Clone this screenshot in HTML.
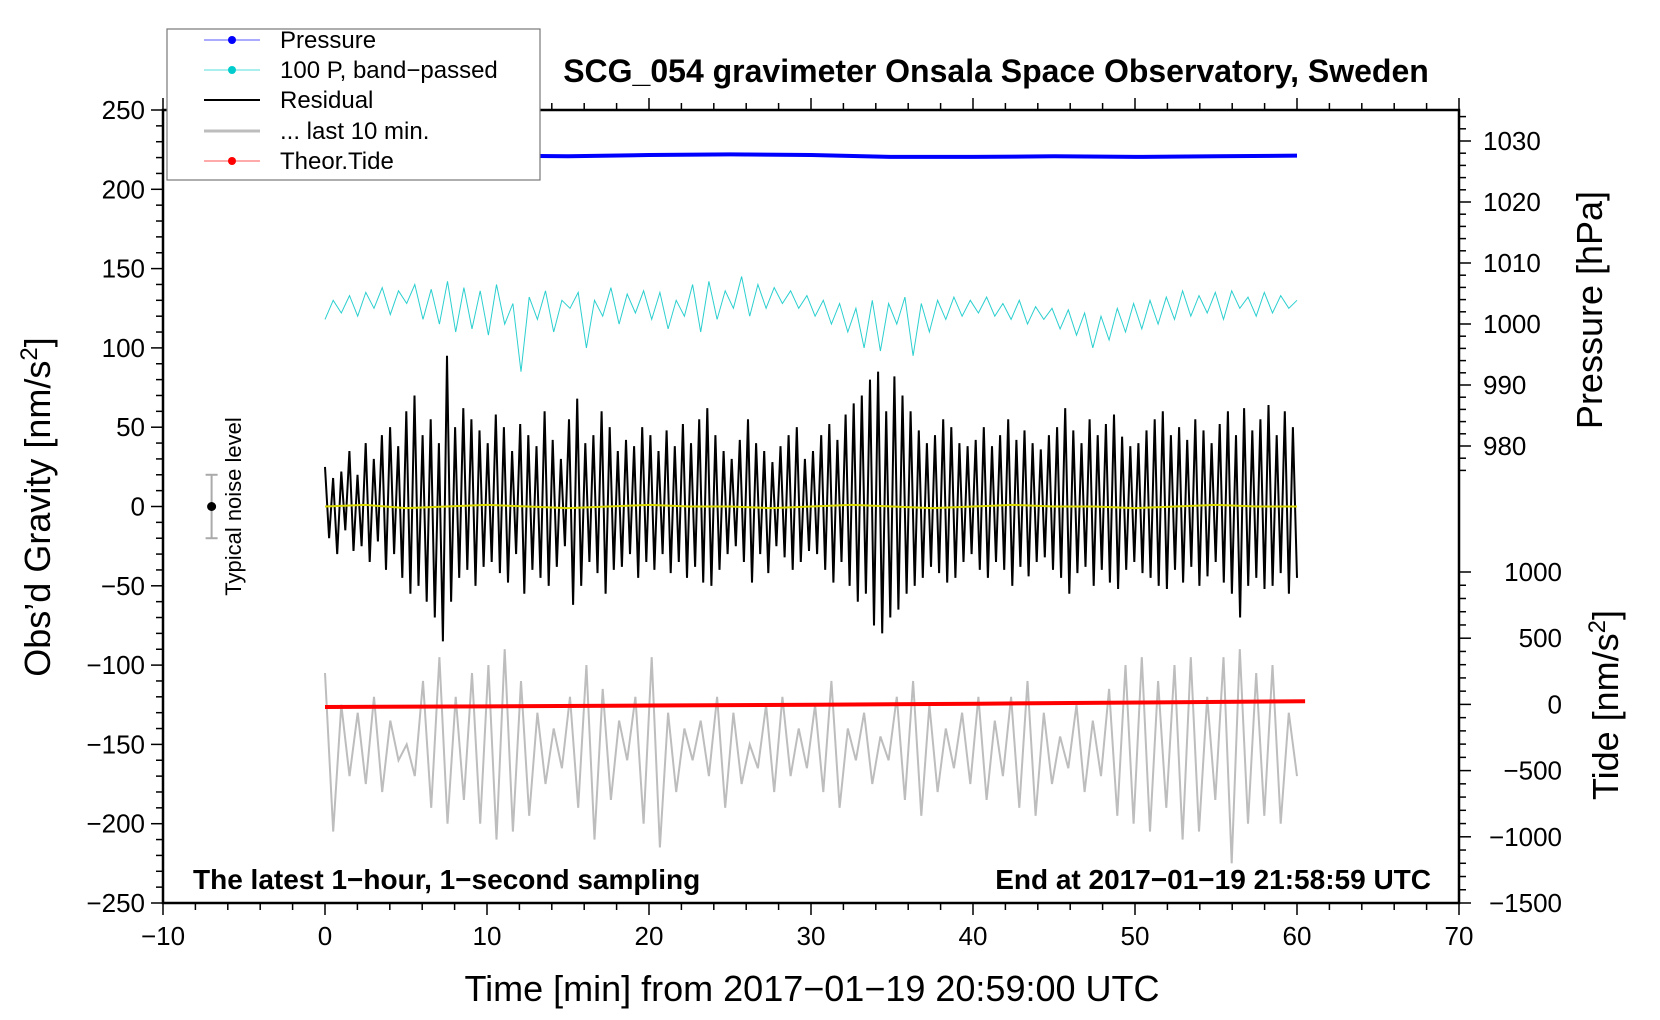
<!DOCTYPE html>
<html><head><meta charset="utf-8">
<style>
html,body{margin:0;padding:0;background:#fff;}
svg{display:block;font-family:"Liberation Sans",Arial,sans-serif;}
</style></head>
<body>
<svg id="chart" width="1660" height="1020" viewBox="0 0 1660 1020" xmlns="http://www.w3.org/2000/svg">
<rect x="0" y="0" width="1660" height="1020" fill="#fff"/>
<g id="plot"></g>
<g id="axes"></g>
</svg>
<script>
const xTicks=[-10,0,10,20,30,40,50,60,70];
const yTicks=[250,200,150,100,50,0,-50,-100,-150,-200,-250];
const pTicks=[1030,1020,1010,1000,990,980];
const tTicks=[1000,500,0,-500,-1000,-1500];
const residual=[25,-20,18,-30,22,-15,35,-28,20,-25,40,-35,30,-22,45,-40,50,-30,38,-45,
60,-55,70,-50,45,-60,55,-70,40,-85,95,-60,50,-45,62,-40,55,-50,48,-38,
40,-35,58,-42,50,-48,35,-30,52,-55,45,-40,38,-45,60,-50,42,-38,30,-25,
55,-62,68,-50,40,-35,45,-42,60,-55,50,-40,35,-38,42,-30,38,-45,50,-35,
45,-40,35,-30,48,-42,38,-35,52,-45,40,-38,55,-48,62,-50,45,-40,35,-30,
30,-25,42,-35,55,-48,40,-30,35,-42,28,-25,38,-32,45,-40,50,-35,30,-28,
35,-30,45,-40,52,-48,42,-35,58,-50,65,-60,70,-55,80,-75,85,-80,60,-70,
82,-65,70,-55,60,-50,48,-45,40,-38,45,-42,55,-48,50,-45,40,-35,38,-30,
42,-40,50,-45,38,-35,45,-40,55,-50,42,-38,48,-44,40,-35,36,-32,45,-40,
50,-45,62,-55,48,-42,40,-38,55,-50,45,-40,52,-48,58,-52,44,-40,38,-35,
40,-42,48,-45,55,-50,60,-52,45,-40,50,-48,42,-38,55,-50,48,-44,40,-35,
52,-48,60,-55,45,-70,62,-50,48,-45,55,-52,64,-50,45,-42,60,-55,50,-45];
const bandPassed=[118,130,122,133,120,135,125,138,121,136,128,140,118,137,115,142,110,138,112,136,
108,140,115,128,85,132,118,136,110,130,125,135,100,130,120,138,115,134,122,136,
118,135,112,130,120,140,110,142,118,136,125,145,120,140,125,138,128,136,125,133,
120,130,115,128,110,125,100,130,98,128,115,132,95,128,110,130,118,132,120,130,
122,132,120,128,118,130,115,126,118,125,112,124,108,122,100,120,105,125,110,128,
112,130,115,132,118,136,120,133,122,135,118,136,125,132,120,135,122,133,125,130];
const last10=[-105,-205,-125,-170,-130,-175,-120,-180,-135,-160,-150,-170,-110,-190,-95,-200,-120,-185,-105,-200,
-100,-210,-90,-205,-110,-195,-130,-175,-140,-165,-120,-190,-100,-210,-115,-185,-135,-160,-120,-200,
-95,-215,-130,-180,-140,-160,-135,-170,-120,-190,-130,-175,-150,-165,-125,-180,-120,-170,-140,-165,
-125,-180,-110,-190,-140,-160,-130,-175,-145,-160,-120,-185,-110,-195,-125,-180,-140,-165,-130,-175,
-120,-185,-135,-170,-120,-190,-110,-195,-130,-175,-145,-165,-125,-180,-135,-170,-115,-195,-100,-200,
-95,-205,-110,-190,-100,-210,-95,-205,-120,-185,-95,-225,-90,-200,-105,-195,-100,-200,-130,-170];
const pressure=[1027.6,1027.7,1027.6,1027.5,1027.7,1027.8,1027.7,1027.4,1027.4,1027.5,1027.4,1027.5,1027.6];
const tide=[-20,-15,-8,-2,5,14,24];
const smoothed=[0,1,-1,0,1,0,-1,0,1,0,0,-1,0,1,0,-1,0,1,0,0,-1,0,1,0,0];

const L=163,R=1459,T=110,B=903;
const X=v=>L+(v+10)/80*(R-L);
const Y=v=>T+(250-v)/500*(B-T);
const YP=v=>141+(1030-v)/10*61;
const YT=v=>572+(1000-v)/2500*(B-572);
const NS="http://www.w3.org/2000/svg";
const plot=document.getElementById('plot');
const axes=document.getElementById('axes');
function el(tag,attrs,parent){const e=document.createElementNS(NS,tag);for(const k in attrs)e.setAttribute(k,attrs[k]);parent.appendChild(e);return e;}
function series(arr,x0,x1,yf){return arr.map((v,i)=>X(x0+(x1-x0)*i/(arr.length-1)).toFixed(1)+','+yf(v).toFixed(1)).join(' ');}

let g=el('polyline',{points:series(last10,0,60,Y),fill:'none',stroke:'#bdbdbd','stroke-width':2},plot);


let r=el('polyline',{points:series(residual,0,60,Y),fill:'none',stroke:'#000','stroke-width':2},plot);


let s=el('polyline',{points:series(smoothed,0,60,Y),fill:'none',stroke:'#d8d800','stroke-width':2},plot);


let c=el('polyline',{points:series(bandPassed,0,60,Y),fill:'none',stroke:'#2ccfcf','stroke-width':1},plot);


let p=el('polyline',{points:series(pressure,0,60,YP),fill:'none',stroke:'#0000ff','stroke-width':4},plot);


let t=el('polyline',{points:series(tide,0,60.5,YT),fill:'none',stroke:'#ff0000','stroke-width':4},plot);



let nb=el('g',{},plot);


el('line',{x1:X(-7),x2:X(-7),y1:Y(20),y2:Y(-20),stroke:'#aaa','stroke-width':2},nb);
el('line',{x1:X(-7)-6,x2:X(-7)+6,y1:Y(20),y2:Y(20),stroke:'#aaa','stroke-width':2},nb);
el('line',{x1:X(-7)-6,x2:X(-7)+6,y1:Y(-20),y2:Y(-20),stroke:'#aaa','stroke-width':2},nb);
el('circle',{cx:X(-7),cy:Y(0),r:4.5,fill:'#000'},nb);
let nl=el('text',{x:0,y:0,transform:`translate(${X(-5.2)},${Y(0)}) rotate(-90)`,'text-anchor':'middle','font-size':22},plot);
nl.textContent='Typical noise level';



let fr=el('rect',{x:L,y:T,width:R-L,height:B-T,fill:'none',stroke:'#000','stroke-width':2.5},axes);


for(let v=-10;v<=70;v+=2){const big=v%10===0;el('line',{x1:X(v),x2:X(v),y1:B,y2:B+(big?12:7),stroke:'#000','stroke-width':1.5},axes);el('line',{x1:X(v),x2:X(v),y1:T,y2:T-(big?12:7),stroke:'#000','stroke-width':1.5},axes);}
xTicks.forEach(v=>{const e=el('text',{x:X(v),y:B+42,'text-anchor':'middle','font-size':26},axes);e.textContent=String(v).replace('-','\u2212');

});
for(let v=-250;v<=250;v+=10){const big=v%50===0;el('line',{x1:L,x2:L-(big?12:7),y1:Y(v),y2:Y(v),stroke:'#000','stroke-width':1.5},axes);}
yTicks.forEach(v=>{const e=el('text',{x:L-18,y:Y(v)+9,'text-anchor':'end','font-size':26},axes);e.textContent=String(v).replace('-','\u2212');

});
for(let v=976;v<=1034;v+=2){const big=v%10===0;el('line',{x1:R,x2:R+(big?12:7),y1:YP(v),y2:YP(v),stroke:'#000','stroke-width':1.5},axes);}
pTicks.forEach(v=>{const e=el('text',{x:R+24,y:YP(v)+9,'font-size':26},axes);e.textContent=v;

});
for(let v=-1500;v<=1000;v+=100){const big=v%500===0;el('line',{x1:R,x2:R+(big?12:7),y1:YT(v),y2:YT(v),stroke:'#000','stroke-width':1.5},axes);}
tTicks.forEach(v=>{const e=el('text',{x:1562,y:YT(v)+9,'text-anchor':'end','font-size':26},axes);e.textContent=String(v).replace('-','\u2212');

});
</script>
<svg style="position:absolute;left:0;top:0" width="1660" height="1020" xmlns="http://www.w3.org/2000/svg" font-family="Liberation Sans, Arial, sans-serif">
<text x="996" y="82" text-anchor="middle" font-size="32" font-weight="bold">SCG_054 gravimeter Onsala Space Observatory, Sweden</text>
<text transform="translate(50,507) rotate(-90)" text-anchor="middle" font-size="36">Obs’d Gravity [nm/s<tspan font-size="24" dy="-13">2</tspan><tspan dy="13">]</tspan></text>
<text transform="translate(1602,310) rotate(-90)" text-anchor="middle" font-size="36">Pressure [hPa]</text>
<text transform="translate(1618,705) rotate(-90)" text-anchor="middle" font-size="36">Tide [nm/s<tspan font-size="24" dy="-13">2</tspan><tspan dy="13">]</tspan></text>
<text x="812" y="1001" text-anchor="middle" font-size="36">Time [min] from 2017−01−19 20:59:00 UTC</text>
<text x="193" y="889" font-size="28" font-weight="bold">The latest 1−hour, 1−second sampling</text>
<text x="1431" y="889" text-anchor="end" font-size="28" font-weight="bold">End at 2017−01−19 21:58:59 UTC</text>
<g>
<rect x="167" y="29" width="373" height="151" fill="#fff" stroke="#777" stroke-width="1.2"/>
<g><line x1="204" x2="260" y1="40" y2="40" stroke="#5555ff"/><circle cx="232" cy="40" r="4" fill="#0000ff"/><text x="280" y="48" font-size="24">Pressure</text></g>
<g><line x1="204" x2="260" y1="70" y2="70" stroke="#55dddd"/><circle cx="232" cy="70" r="4" fill="#00cccc"/><text x="280" y="78" font-size="24">100 P, band−passed</text></g>
<g><line x1="204" x2="260" y1="100" y2="100" stroke="#000" stroke-width="2"/><text x="280" y="108" font-size="24">Residual</text></g>
<g><line x1="204" x2="260" y1="131" y2="131" stroke="#bdbdbd" stroke-width="3"/><text x="280" y="139" font-size="24">... last 10 min.</text></g>
<g><line x1="204" x2="260" y1="161" y2="161" stroke="#ff5555"/><circle cx="232" cy="161" r="4" fill="#ff0000"/><text x="280" y="169" font-size="24">Theor.Tide</text></g>
</g>
</svg>
</body></html>
